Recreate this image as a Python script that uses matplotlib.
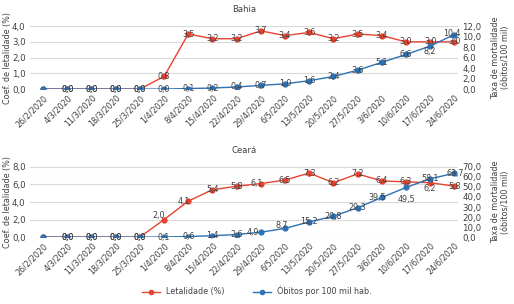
import matplotlib
matplotlib.use("Agg")
import matplotlib.pyplot as plt
from matplotlib.lines import Line2D
import numpy as np

# dados
datas = ["26/2/2020", "4/3/2020", "11/3/2020", "18/3/2020", "25/3/2020", "1/4/2020",
         "8/4/2020", "15/4/2020", "22/4/2020", "29/4/2020", "6/5/2020", "13/5/2020",
         "20/5/2020", "27/5/2020", "3/6/2020", "10/6/2020", "17/6/2020", "24/6/2020"]

ba_letal = [0, 0, 0, 0, 0, 0.8, 3.5, 3.2, 3.2, 3.7, 3.4, 3.6, 3.2, 3.5, 3.4, 3.0, 3.0, 3.0]
ba_obitos = [0, 0, 0, 0, 0, 0, 0.1, 0.2, 0.4, 0.7, 1.0, 1.6, 2.4, 3.6, 5.1, 6.6, 8.2, 10.4]

ce_letal = [0, 0, 0, 0, 0, 2.0, 4.1, 5.4, 5.8, 6.1, 6.5, 7.3, 6.2, 7.2, 6.4, 6.3, 6.2, 5.8]
ce_obitos = [0, 0, 0, 0, 0, 0.1, 0.6, 1.4, 2.6, 4.9, 8.7, 15.2, 20.8, 29.3, 39.5, 49.5, 58.1, 63.7]

vermelho = "#E8432F"
azul = "#2C72B4"
cinza = "#404040"

plt.rcParams["font.family"] = "DejaVu Sans"
fs = 5.8

fig = plt.figure(figsize=(5.14, 3.04), dpi=100)

def fmt(v):
    return ("%.1f" % v).replace(".", ",")

def painel(rect, titulo, letal, obitos, lmax, lstep, rmax, rstep, offs_l, offs_r):
    x = np.arange(len(datas))
    ax = fig.add_axes(rect)
    ax2 = ax.twinx()
    ax2.patch.set_visible(False)

    ax.plot(x, letal, color=vermelho, lw=1.0, marker="o", ms=3.5)
    ax2.plot(x, obitos, color=azul, lw=1.0, marker="o", ms=3.5)

    ax.set_ylim(0, lmax)
    ax2.set_ylim(0, rmax)
    ax.set_yticks(np.arange(0, lmax + 0.01, lstep))
    ax2.set_yticks(np.arange(0, rmax + 0.01, rstep))
    ax.set_yticklabels([fmt(v) for v in ax.get_yticks()], fontsize=fs + 0.4, color=cinza)
    ax2.set_yticklabels([fmt(v) for v in ax2.get_yticks()], fontsize=fs + 0.4, color=cinza)
    ax.set_xlim(-0.55, 17.15)
    ax.set_xticks(x)
    ax.set_xticklabels(datas, rotation=45, ha="right", rotation_mode="anchor",
                       fontsize=fs, color=cinza)
    ax.grid(axis="y", color="#D9D9D9", lw=0.8)
    ax.set_axisbelow(True)
    for a in (ax, ax2):
        for s in a.spines.values():
            s.set_visible(False)
        a.tick_params(length=0, pad=3)
    ax.set_ylabel("Coef. de letalidade (%)", fontsize=fs, color=cinza)
    ax.yaxis.set_label_coords(-0.042, 0.5)
    ax2.set_ylabel("Taxa de mortalidade\n(óbitos/100 mil)", fontsize=fs,
                   color=cinza, linespacing=1.05, rotation=90)
    ax2.yaxis.set_label_coords(1.078, 0.5)
    ax.set_title(titulo, fontsize=fs + 0.3, color=cinza, pad=10)

    for i in range(1, len(datas)):
        dx, dy = offs_l.get(i, (0, 0))
        ax.annotate(fmt(letal[i]), (x[i], letal[i]), xytext=(dx, dy),
                    textcoords="offset points", ha="center", va="center",
                    fontsize=fs, color=cinza, zorder=5)
        dx, dy = offs_r.get(i, (0, 0))
        ax2.annotate(fmt(obitos[i]), (x[i], obitos[i]), xytext=(dx, dy),
                     textcoords="offset points", ha="center", va="center",
                     fontsize=fs, color=cinza, zorder=5)
    return ax

painel([0.058, 0.707, 0.833, 0.207], "Bahia", ba_letal, ba_obitos, 4, 1, 12, 2,
       {}, {16: (0, -4), 17: (-2, 1)})
painel([0.058, 0.220, 0.833, 0.231], "Ceará", ce_letal, ce_obitos, 8, 2, 70, 10,
       {5: (-4, 3), 6: (-3, 0), 9: (-3, 0), 16: (0, -4)},
       {9: (-6, 0), 10: (-2, 2), 14: (-3, 0), 15: (0, -9), 17: (1, 0)})

handles = [Line2D([], [], color=vermelho, lw=1.0, marker="o", ms=3),
           Line2D([], [], color=azul, lw=1.0, marker="o", ms=3)]
fig.legend(handles, ["Letalidade (%)", "Óbitos por 100 mil hab."],
           loc="center", bbox_to_anchor=(0.5, 0.042), ncol=2, frameon=False,
           fontsize=fs, handlelength=2.2, columnspacing=3.5, labelcolor=cinza)

fig.savefig("out.png", dpi=100)
